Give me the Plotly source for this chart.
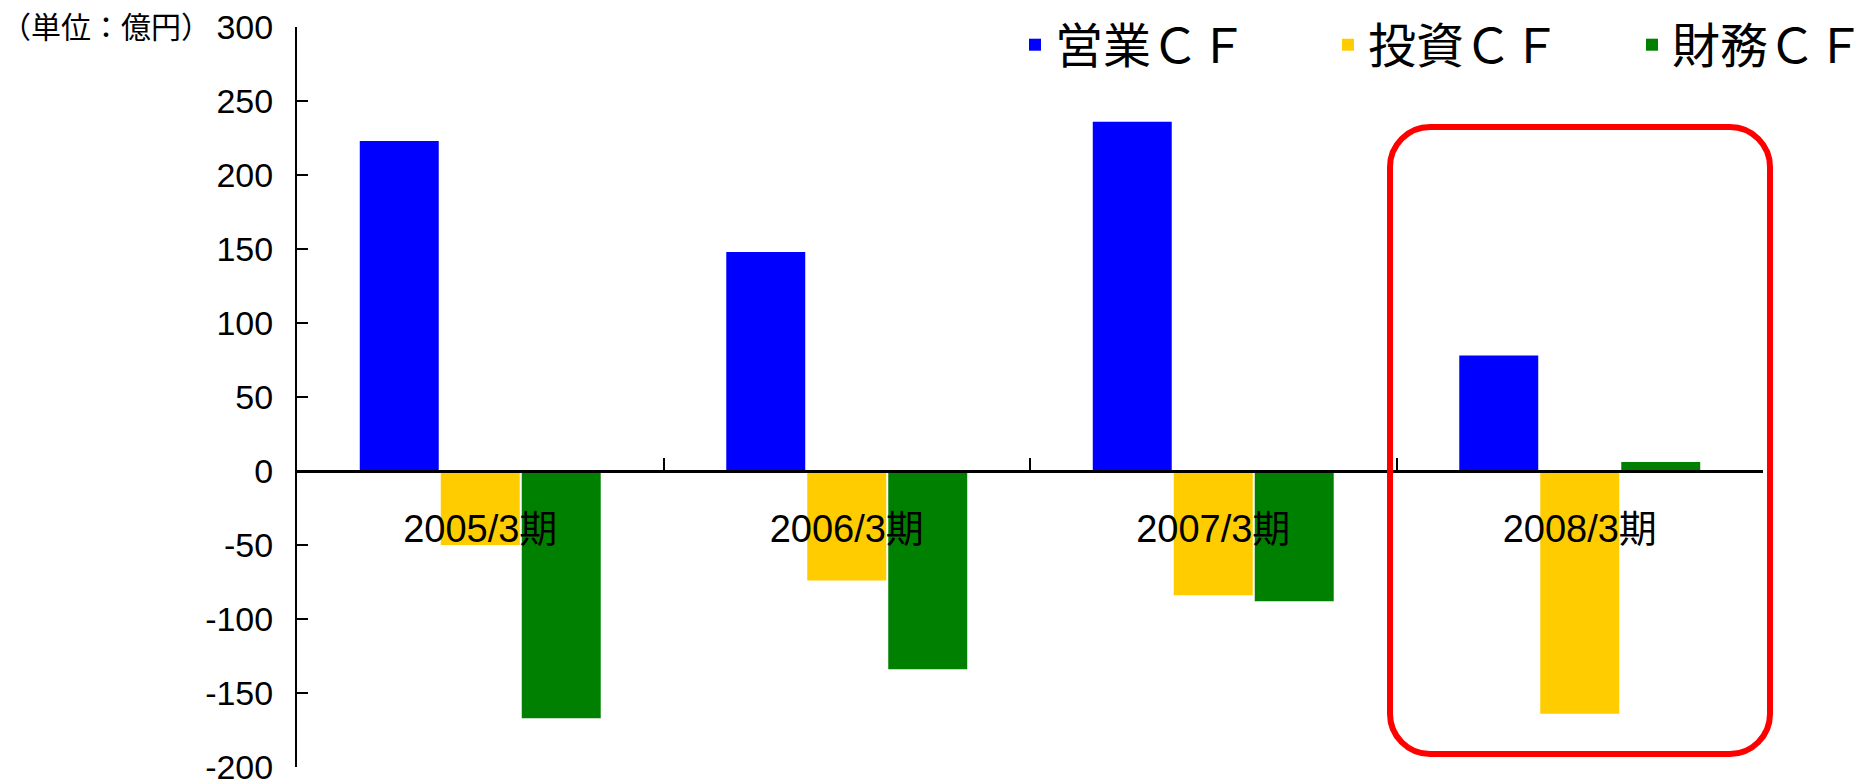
import plotly.graph_objects as go

categories = ["2005/3期", "2006/3期", "2007/3期", "2008/3期"]
series_names = ["営業ＣＦ", "投資ＣＦ", "財務ＣＦ"]
operating_cf = [223, 148, 236, 78]
investing_cf = [-50, -74, -84, -164]
financing_cf = [-167, -134, -88, 6]
y_tickvals = [300, 250, 200, 150, 100, 50, 0, -50, -100, -150, -200]
y_ticktext = ["300", "250", "200", "150", "100", "50", "0", "-50", "-100", "-150", "-200"]
unit_label = "（単位：億円）"

colors = ["#0000FF", "#FFCC00", "#008000"]
FONT = "Liberation Sans, Arial, Noto Sans CJK JP, sans-serif"

W, H = 1865, 783
ML, MR, MT, MB = 297, 102, 27, 16
pw = W - ML - MR
ph = H - MT - MB

legend_ids = ["legend", "legend2", "legend3"]
legend_px = [1015, 1328, 1632]

fig = go.Figure()
for name, vals, col, lid in zip(series_names, [operating_cf, investing_cf, financing_cf], colors, legend_ids):
    fig.add_trace(go.Bar(
        x=categories, y=vals, name=name, legend=lid,
        marker=dict(color=col, line=dict(width=0)),
    ))

# rounded highlight box around the last period (pixel geometry converted to paper coords)
def P(x, y):
    a, b = (x - ML) / pw, (H - MB - y) / ph
    return f"{a:.5f},{b:.5f}"

left, right, top, bottom, r = 1390, 1770, 127, 754, 40
k = 0.45
path = (
    f"M {P(left + r, top)} L {P(right - r, top)} "
    f"C {P(right - r*k, top)} {P(right, top + r*k)} {P(right, top + r)} "
    f"L {P(right, bottom - r)} "
    f"C {P(right, bottom - r*k)} {P(right - r*k, bottom)} {P(right - r, bottom)} "
    f"L {P(left + r, bottom)} "
    f"C {P(left + r*k, bottom)} {P(left, bottom - r*k)} {P(left, bottom - r)} "
    f"L {P(left, top + r)} "
    f"C {P(left, top + r*k)} {P(left + r*k, top)} {P(left + r, top)} Z"
)
fig.add_shape(type="path", path=path, xref="paper", yref="paper",
              line=dict(color="#FF0000", width=6), layer="above")

fig.add_annotation(text=unit_label, xref="paper", yref="y", x=0, y=300,
                   xanchor="right", yanchor="middle", xshift=-84, yshift=2, showarrow=False,
                   font=dict(family="Noto Sans CJK JP, sans-serif", size=30, color="black"))

legend_common = dict(orientation="h", xanchor="left", xref="paper",
                     y=(H - MB - 45) / ph, yanchor="middle",
                     font=dict(family="Noto Sans CJK JP, sans-serif", size=48, color="black"),
                     bgcolor="rgba(0,0,0,0)", itemclick=False)

fig.update_layout(
    width=W, height=H,
    margin=dict(l=ML, r=MR, t=MT, b=MB, pad=0, autoexpand=False),
    paper_bgcolor="white", plot_bgcolor="white",
    barmode="group", bargap=0.337, bargroupgap=0.025,
    font=dict(family=FONT, color="black"),
    showlegend=True,
)
for lid, lx in zip(legend_ids, legend_px):
    fig.update_layout({lid: dict(x=(lx - ML) / pw, **legend_common)})

fig.update_yaxes(range=[-200, 300], tickvals=y_tickvals, ticktext=y_ticktext,
                 showgrid=False, zeroline=False, showline=True, linecolor="black",
                 linewidth=2, ticks="inside", ticklen=11, tickwidth=2, tickcolor="black",
                 tickfont=dict(family=FONT, size=34, color="black"),
                 ticklabelstandoff=15, ticklabeloverflow="allow")
fig.update_xaxes(type="category", anchor="free", position=0.4,
                 showgrid=False, zeroline=False, showline=True, linecolor="black",
                 linewidth=2.5, ticks="inside", ticklen=12, tickwidth=2, tickcolor="black",
                 tickson="boundaries",
                 tickfont=dict(family=FONT, size=38, color="black"),
                 ticklabelstandoff=24, range=[-0.5, 3.5])

fig.write_html("out.html")
